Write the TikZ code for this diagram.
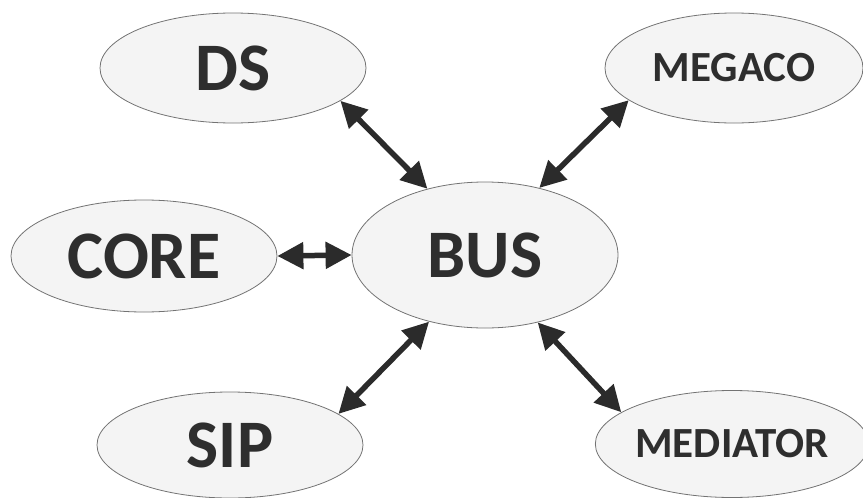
\documentclass[tikz,border=0pt]{standalone}
\usepackage{fontspec}
\setmainfont{Carlito}
\usepackage{tikz}
\usepackage{xcolor}
\usetikzlibrary{arrows.meta,backgrounds,shapes}
\definecolor{txtgray}{HTML}{2E2E2E}
\definecolor{linegray}{HTML}{2B2B2B}
\definecolor{fillgray}{HTML}{F4F4F4}
\tikzstyle{module}	=[ellipse,draw=black!55,fill=fillgray,line width=0.8pt,inner sep=0pt,text=txtgray,font=\fontsize{68}{68}\selectfont\bfseries]
\tikzstyle{modsmall}	=[module,font=\fontsize{43}{43}\selectfont\bfseries]
\tikzstyle{edgebus} 	= [draw,line width=5.5pt,linegray,{Triangle[length=26pt,width=26pt]}-{Triangle[length=26pt,width=26pt]}]

\begin{document}
\begin{tikzpicture}[x=1pt,y=-1pt]
		\useasboundingbox (0,0) rectangle (863,498);
		
		%%%%% Bus in the middle
		\node[module,minimum width=266pt,minimum height=146pt] (BUS) at (485,255) {BUS};
		
		%%%%% Modules round the bus
		\node[module,minimum width=266pt,minimum height=110pt] (DS) at (233,68) {DS};
		\node[module,minimum width=266pt,minimum height=112pt] (CORE) at (144,256) {CORE};
		\node[module,minimum width=266pt,minimum height=106pt] (SIP) at (230,445) {SIP};
		\node[modsmall,minimum width=258pt,minimum height=110pt] (MEGACO) at (734,68) {MEGACO};
		\node[modsmall,minimum width=260pt,minimum height=107pt] (MEDIATOR) at (732,444) {MEDIATOR};
		
		%%%% Links to the bus
		\foreach \source/ \dest in {DS.-17/BUS.131,MEGACO.-163/BUS.51,CORE.east/BUS.west,SIP.16/BUS.-130,MEDIATOR.164/BUS.-52}	\path[edgebus] (\source) -- (\dest) ;
\end{tikzpicture}
\end{document}
